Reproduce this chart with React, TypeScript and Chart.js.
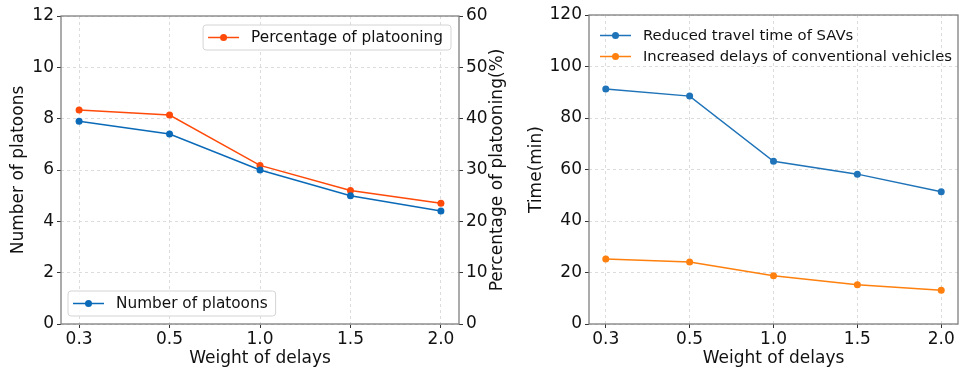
import React, { useEffect, useRef } from "react";
import { Chart, registerables } from "chart.js";

Chart.register(...registerables);

const weights = ["0.3", "0.5", "1.0", "1.5", "2.0"];
const numberOfPlatoons = [7.9, 7.4, 6.0, 5.0, 4.4];
const percentagePlatooning = [41.7, 40.7, 30.9, 26.0, 23.5];
const reducedTravelTime = [91.3, 88.5, 63.2, 58.2, 51.4];
const increasedDelays = [25.2, 24.1, 18.7, 15.2, 13.1];

const FONT = "DejaVu Sans";
const GRID = "#dcdcdc";
const SPINE = "#7f7f7f";
const TEXT = "#111";

type LegendItem = { label: string; color: string };
type LegendSpec = {
  items: LegendItem[];
  corner: "tl" | "tr" | "bl";
  dx: number;
  dy: number;
  frame: boolean;
  fontSize: number;
};

const framePlugin = {
  id: "mplFrame",
  afterDraw(chart: any) {
    const { ctx, chartArea } = chart;
    ctx.save();
    ctx.strokeStyle = SPINE;
    ctx.lineWidth = 1.3;
    ctx.strokeRect(chartArea.left, chartArea.top, chartArea.right - chartArea.left, chartArea.bottom - chartArea.top);
    ctx.restore();
  },
};

// Right-side axis title drawn bottom-to-top like matplotlib's twin axis label
const rightTitlePlugin = {
  id: "rightTitle",
  afterDraw(chart: any, _args: any, opts: any) {
    if (!opts || !opts.text) return;
    const { ctx, chartArea } = chart;
    ctx.save();
    ctx.font = `17px "${FONT}"`;
    ctx.fillStyle = TEXT;
    ctx.textAlign = "center";
    ctx.textBaseline = "middle";
    ctx.translate(chartArea.right + opts.offset, (chartArea.top + chartArea.bottom) / 2);
    ctx.rotate(-Math.PI / 2);
    ctx.fillText(opts.text, 0, 0);
    ctx.restore();
  },
};

function roundRect(ctx: CanvasRenderingContext2D, x: number, y: number, w: number, h: number, r: number) {
  ctx.beginPath();
  ctx.moveTo(x + r, y);
  ctx.lineTo(x + w - r, y);
  ctx.quadraticCurveTo(x + w, y, x + w, y + r);
  ctx.lineTo(x + w, y + h - r);
  ctx.quadraticCurveTo(x + w, y + h, x + w - r, y + h);
  ctx.lineTo(x + r, y + h);
  ctx.quadraticCurveTo(x, y + h, x, y + h - r);
  ctx.lineTo(x, y + r);
  ctx.quadraticCurveTo(x, y, x + r, y);
  ctx.closePath();
}

const legendPlugin = {
  id: "mplLegends",
  afterDraw(chart: any, _args: any, opts: any) {
    const specs: LegendSpec[] = opts.legends || [];
    const { ctx, chartArea } = chart;
    ctx.save();
    for (const spec of specs) {
      ctx.font = `${spec.fontSize}px "${FONT}"`;
      const pad = 5;
      const sample = 31;
      const gap = 12;
      const rowH = 21;
      const textW = Math.max(...spec.items.map((it) => ctx.measureText(it.label).width));
      const w = pad + sample + gap + textW + 8;
      const h = spec.items.length * rowH + 4;
      let x = chartArea.left + spec.dx;
      let y = chartArea.top + spec.dy;
      if (spec.corner === "tr") x = chartArea.right - spec.dx - w;
      if (spec.corner === "bl") y = chartArea.bottom - spec.dy - h;
      if (spec.frame) {
        roundRect(ctx, x, y, w, h, 3);
        ctx.fillStyle = "rgba(255,255,255,0.85)";
        ctx.fill();
        ctx.strokeStyle = "#d4d4d4";
        ctx.lineWidth = 1;
        ctx.stroke();
      }
      spec.items.forEach((it, i) => {
        const cy = y + 2 + rowH / 2 + i * rowH;
        ctx.strokeStyle = it.color;
        ctx.lineWidth = 1.5;
        ctx.beginPath();
        ctx.moveTo(x + pad, cy);
        ctx.lineTo(x + pad + sample, cy);
        ctx.stroke();
        ctx.fillStyle = it.color;
        ctx.beginPath();
        ctx.arc(x + pad + sample / 2, cy, 3.5, 0, Math.PI * 2);
        ctx.fill();
        ctx.fillStyle = TEXT;
        ctx.textBaseline = "middle";
        ctx.textAlign = "left";
        ctx.fillText(it.label, x + pad + sample + gap, cy + 1);
      });
    }
    ctx.restore();
  },
};

const tickFont = { family: FONT, size: 17 };
const titleFont = { family: FONT, size: 17 };

function xScale() {
  return {
    type: "linear" as const,
    min: -0.2,
    max: 4.2,
    afterBuildTicks: (s: any) => {
      s.ticks = weights.map((_, i) => ({ value: i }));
    },
    afterFit: (s: any) => {
      s.height = 45;
    },
    ticks: {
      callback: (v: any) => weights[v] ?? "",
      font: tickFont,
      color: TEXT,
      padding: 1,
      maxRotation: 0,
      autoSkip: false,
    },
    grid: {
      color: GRID,
      borderDash: [3, 3],
      tickColor: "#333",
      tickLength: 4,
      tickBorderDash: [],
    },
    border: { display: false, dash: [3, 3] },
    title: {
      display: true,
      text: "Weight of delays",
      font: titleFont,
      color: TEXT,
      padding: { top: 0, bottom: 0 },
    },
  };
}

function yScale(opts: {
  position: "left" | "right";
  min: number;
  max: number;
  step: number;
  width: number;
  title: string;
  titlePad: number;
  grid: boolean;
}) {
  return {
    type: "linear" as const,
    position: opts.position,
    min: opts.min,
    max: opts.max,
    afterFit: (s: any) => {
      s.width = opts.width;
    },
    ticks: {
      stepSize: opts.step,
      font: tickFont,
      color: TEXT,
      padding: 3,
    },
    grid: {
      drawOnChartArea: opts.grid,
      color: GRID,
      borderDash: [3, 3],
      tickColor: "#333",
      tickLength: 4,
      tickBorderDash: [],
    },
    border: { display: false, dash: [3, 3] },
    title: {
      display: opts.title !== "",
      text: opts.title,
      font: titleFont,
      color: TEXT,
      padding: { top: opts.titlePad, bottom: 0 },
    },
  };
}

function lineDataset(label: string, values: number[], color: string, yAxisID: string) {
  return {
    label,
    data: values.map((v, i) => ({ x: i, y: v })),
    borderColor: color,
    backgroundColor: color,
    borderWidth: 1.5,
    pointRadius: 3.5,
    pointBorderWidth: 0,
    pointBackgroundColor: color,
    yAxisID,
    tension: 0,
  };
}

function LeftChart() {
  const ref = useRef<HTMLCanvasElement>(null);
  useEffect(() => {
    const blue = "#0a6ab8";
    const orange = "#ff4a0a";
    const chart = new Chart(ref.current!, {
      type: "line",
      data: {
        datasets: [
          lineDataset("Number of platoons", numberOfPlatoons, blue, "y"),
          lineDataset("Percentage of platooning", percentagePlatooning, orange, "y1"),
        ],
      },
      options: {
        responsive: false,
        animation: false,
        layout: { padding: { top: 16, right: 0, left: 0, bottom: 0 } },
        scales: {
          x: xScale(),
          y: yScale({ position: "left", min: 0, max: 12, step: 2, width: 61, title: "Number of platoons", titlePad: 8, grid: true }),
          y1: yScale({ position: "right", min: 0, max: 60, step: 10, width: 61, title: "", titlePad: 0, grid: false }),
        },
        plugins: {
          legend: { display: false },
          tooltip: { enabled: false },
          rightTitle: { text: "Percentage of platooning(%)", offset: 39 },
          mplLegends: {
            legends: [
              { items: [{ label: "Percentage of platooning", color: orange }], corner: "tr", dx: 8, dy: 9, frame: true, fontSize: 15.3 },
              { items: [{ label: "Number of platoons", color: blue }], corner: "bl", dx: 7, dy: 8, frame: true, fontSize: 15.3 },
            ],
          },
        } as any,
      },
      plugins: [framePlugin, legendPlugin, rightTitlePlugin],
    });
    return () => chart.destroy();
  }, []);
  return <canvas ref={ref} width={520} height={369} style={{ display: "block" }} />;
}

function RightChart() {
  const ref = useRef<HTMLCanvasElement>(null);
  useEffect(() => {
    const blue = "#1f73b8";
    const orange = "#ff800e";
    const chart = new Chart(ref.current!, {
      type: "line",
      data: {
        datasets: [
          lineDataset("Reduced travel time of SAVs", reducedTravelTime, blue, "y"),
          lineDataset("Increased delays of conventional vehicles", increasedDelays, orange, "y"),
        ],
      },
      options: {
        responsive: false,
        animation: false,
        layout: { padding: { top: 15, right: 1, left: 0, bottom: 0 } },
        scales: {
          x: xScale(),
          y: yScale({ position: "left", min: 0, max: 120, step: 20, width: 69, title: "Time(min)", titlePad: 6, grid: true }),
        },
        plugins: {
          legend: { display: false },
          tooltip: { enabled: false },
          mplLegends: {
            legends: [
              {
                items: [
                  { label: "Reduced travel time of SAVs", color: blue },
                  { label: "Increased delays of conventional vehicles", color: orange },
                ],
                corner: "tl",
                dx: 6,
                dy: 8,
                frame: false,
                fontSize: 14.8,
              },
            ],
          },
        } as any,
      },
      plugins: [framePlugin, legendPlugin],
    });
    return () => chart.destroy();
  }, []);
  return <canvas ref={ref} width={442} height={369} style={{ display: "block" }} />;
}

export default function App() {
  return (
    <div style={{ position: "absolute", left: 0, top: 0, width: 962, height: 369, display: "flex", background: "#fff" }}>
      <LeftChart />
      <RightChart />
    </div>
  );
}
